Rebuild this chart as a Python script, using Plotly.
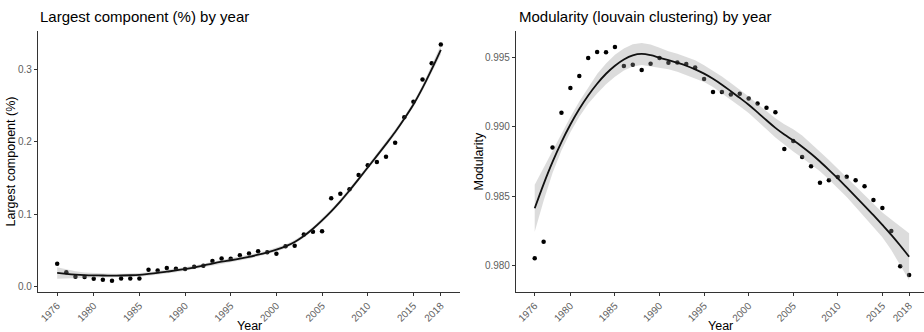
import plotly.graph_objects as go

# ---------------- data ----------------
years = list(range(1976, 2019))

largest_component = [
    0.0318, 0.0198, 0.0138, 0.0133, 0.0110, 0.0097, 0.0083, 0.0115, 0.0115, 0.0115,
    0.0235, 0.0225, 0.0258, 0.0248, 0.0244, 0.0276, 0.0290, 0.0354, 0.0391, 0.0387,
    0.0433, 0.0460, 0.0488, 0.0474, 0.0456, 0.0557, 0.0566, 0.0722, 0.0759, 0.0764,
    0.1220, 0.1284, 0.1344, 0.1542, 0.1675, 0.1721, 0.1795, 0.1988, 0.2338, 0.2554,
    0.2858, 0.3083, 0.3341,
]

largest_smooth = [
    0.0190, 0.0178, 0.0168, 0.0161, 0.0157, 0.0155, 0.0154, 0.0155, 0.0158, 0.0164,
    0.0176, 0.0190, 0.0207, 0.0225, 0.0244, 0.0265, 0.0292, 0.0320, 0.0345, 0.0365,
    0.0387, 0.0412, 0.0442, 0.0475, 0.0512, 0.0557, 0.0618, 0.0700, 0.0800, 0.0915,
    0.1040, 0.1178, 0.1328, 0.1485, 0.1645, 0.1805, 0.1968, 0.2135, 0.2318, 0.2515,
    0.2745, 0.3000, 0.3270,
]

largest_band_halfwidth = [
    0.0080, 0.0060, 0.0045, 0.0035, 0.0030, 0.0025, 0.0025, 0.0025, 0.0025, 0.0025,
    0.0025, 0.0025, 0.0025, 0.0025, 0.0025, 0.0025, 0.0025, 0.0025, 0.0025, 0.0025,
    0.0025, 0.0025, 0.0025, 0.0025, 0.0025, 0.0025, 0.0025, 0.0025, 0.0025, 0.0028,
    0.0030, 0.0030, 0.0030, 0.0030, 0.0030, 0.0030, 0.0030, 0.0035, 0.0035, 0.0035,
    0.0040, 0.0050, 0.0065,
]

modularity = [
    0.98051, 0.98171, 0.98852, 0.99103, 0.99281, 0.99368, 0.99498, 0.99541, 0.99539, 0.99577,
    0.99440, 0.99449, 0.99411, 0.99457, 0.99498, 0.99464, 0.99466, 0.99454, 0.99430, 0.99346,
    0.99252, 0.99252, 0.99235, 0.99240, 0.99206, 0.99170, 0.99139, 0.99105, 0.98840, 0.98898,
    0.98782, 0.98715, 0.98597, 0.98614, 0.98638, 0.98640, 0.98614, 0.98571, 0.98472, 0.98414,
    0.98248, 0.97993, 0.97930,
]

modularity_smooth = [
    0.98412, 0.98587, 0.98747, 0.98890, 0.99017, 0.99129, 0.99227, 0.99312, 0.99384, 0.99442,
    0.99487, 0.99517, 0.99527, 0.99518, 0.99500, 0.99482, 0.99463, 0.99442, 0.99416, 0.99385,
    0.99348, 0.99305, 0.99258, 0.99210, 0.99160, 0.99105, 0.99048, 0.98993, 0.98945, 0.98903,
    0.98857, 0.98806, 0.98750, 0.98690, 0.98628, 0.98563, 0.98497, 0.98430, 0.98362, 0.98292,
    0.98220, 0.98143, 0.98062,
]

modularity_band_halfwidth = [
    0.00170, 0.00120, 0.00080, 0.00060, 0.00055, 0.00055, 0.00060, 0.00070, 0.00075, 0.00080,
    0.00080, 0.00080, 0.00080, 0.00078, 0.00072, 0.00065, 0.00065, 0.00065, 0.00065, 0.00060,
    0.00060, 0.00060, 0.00060, 0.00060, 0.00060, 0.00060, 0.00065, 0.00070, 0.00075, 0.00080,
    0.00080, 0.00075, 0.00070, 0.00070, 0.00070, 0.00070, 0.00075, 0.00080, 0.00085, 0.00090,
    0.00110, 0.00140, 0.00170,
]

x_tick_vals = [1976, 1980, 1985, 1990, 1995, 2000, 2005, 2010, 2015, 2018]
x_tick_text = [str(v) for v in x_tick_vals]
left_y_ticks = [0.0, 0.1, 0.2, 0.3]
left_y_text = ["0.0", "0.1", "0.2", "0.3"]
right_y_ticks = [0.980, 0.985, 0.990, 0.995]
right_y_text = ["0.980", "0.985", "0.990", "0.995"]

titles = ["Largest component (%) by year", "Modularity (louvain clustering) by year"]
y_titles = ["Largest component (%)", "Modularity"]
x_title = "Year"

# ---------------- figure ----------------
W, H = 924, 332
FONT = "Liberation Sans, Arial, Helvetica, sans-serif"
BAND = "rgba(153,153,153,0.34)"
AX = "#333333"
TICKTXT = "#5e5e5e"

fig = go.Figure()


def add_panel(vals, smooth, hw, xa, ya):
    fig.add_trace(go.Scatter(
        x=years, y=vals, mode="markers", xaxis=xa, yaxis=ya,
        marker=dict(color="black", size=4.5, line=dict(width=0)),
        showlegend=False, hoverinfo="skip"))
    upper = [s + h for s, h in zip(smooth, hw)]
    lower = [s - h for s, h in zip(smooth, hw)]
    fig.add_trace(go.Scatter(
        x=years + years[::-1], y=upper + lower[::-1], mode="lines",
        xaxis=xa, yaxis=ya, fill="toself", fillcolor=BAND,
        line=dict(width=0, color=BAND), showlegend=False, hoverinfo="skip"))
    fig.add_trace(go.Scatter(
        x=years, y=smooth, mode="lines", xaxis=xa, yaxis=ya,
        line=dict(color="#111111", width=1.8, shape="spline", smoothing=1.0),
        showlegend=False, hoverinfo="skip"))


add_panel(largest_component, largest_smooth, largest_band_halfwidth, "x", "y")
add_panel(modularity, modularity_smooth, modularity_band_halfwidth, "x2", "y2")

ydom = [40 / H, 301 / H]
common_x = dict(
    tickmode="array", tickvals=x_tick_vals, ticktext=x_tick_text, tickangle=-45,
    ticks="outside", ticklen=3, tickwidth=1, tickcolor=AX,
    showline=True, linecolor=AX, linewidth=1.1, showgrid=False, zeroline=False,
    tickfont=dict(family=FONT, size=10, color=TICKTXT), automargin=False,
)
common_y = dict(
    tickmode="array", ticks="outside", ticklen=3, tickwidth=1, tickcolor=AX,
    showline=True, linecolor=AX, linewidth=1.1, showgrid=False, zeroline=False,
    tickfont=dict(family=FONT, size=10, color=TICKTXT), automargin=False,
    domain=ydom,
)

fig.update_layout(
    width=W, height=H,
    margin=dict(l=0, r=0, t=0, b=0),
    paper_bgcolor="white", plot_bgcolor="white",
    font=dict(family=FONT),
    xaxis=dict(domain=[38 / W, 460 / W], range=[1973.9, 2020.1], anchor="y", **common_x),
    yaxis=dict(range=[-0.0073, 0.3529], tickvals=left_y_ticks, ticktext=left_y_text,
               anchor="x", **common_y),
    xaxis2=dict(domain=[516 / W, 1.0], range=[1973.9, 2019.67], anchor="y2", **common_x),
    yaxis2=dict(range=[0.97807, 0.99693], tickvals=right_y_ticks, ticktext=right_y_text,
                anchor="x2", **common_y),
)

ann = []
for xpx, t in zip([38, 517], titles):
    ann.append(dict(x=xpx / W, y=1 - 17 / H, xref="paper", yref="paper", text=t,
                    showarrow=False, xanchor="left", yanchor="middle",
                    font=dict(family=FONT, size=15, color="black")))
for xpx, t in zip([10, 478], y_titles):
    ann.append(dict(x=xpx / W, y=1 - 161.5 / H, xref="paper", yref="paper", text=t,
                    textangle=-90, showarrow=False, xanchor="center", yanchor="middle",
                    font=dict(family=FONT, size=12.5, color="black")))
for xpx in [249, 720]:
    ann.append(dict(x=xpx / W, y=1 - 326 / H, xref="paper", yref="paper", text=x_title,
                    showarrow=False, xanchor="center", yanchor="middle",
                    font=dict(family=FONT, size=12.5, color="black")))
fig.update_layout(annotations=ann)

fig.write_html("out.html")
